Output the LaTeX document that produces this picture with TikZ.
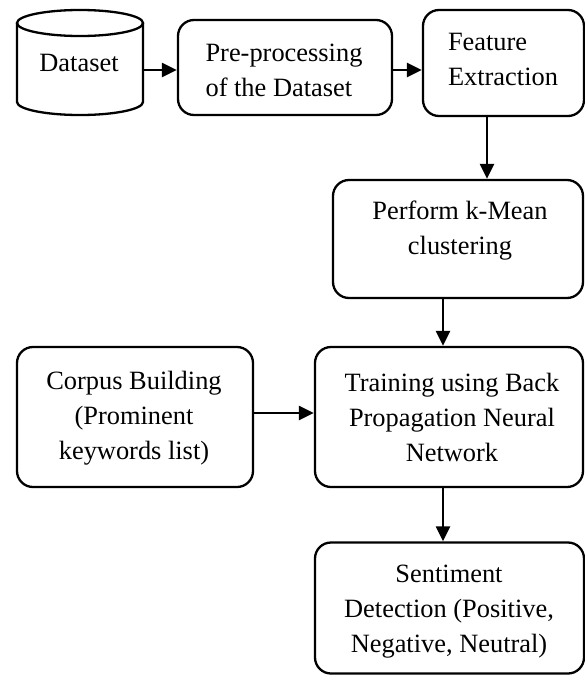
\documentclass[tikz,border=0pt]{standalone}
\usepackage{fontspec}
\setmainfont{Liberation Serif}
\usetikzlibrary{arrows.meta}
\begin{document}
\begin{tikzpicture}[x=1pt,y=1pt,
  box/.style={draw=black, line width=2.3pt, rounded corners=16pt, inner sep=0pt},
  txt/.style={inner sep=0pt, font=\fontsize{26.4}{35}\selectfont},
  arr/.style={line width=2.3pt, -{Triangle[length=15pt,width=14pt]}}]
\useasboundingbox (0,0) rectangle (585,-675);
% Dataset cylinder
\node[txt, minimum width=126pt, minimum height=105pt] (ds) at (80,-62.5) {};
\node[txt] (dst) at (79,-63) {Dataset};
\draw[line width=2.3pt] (80,-23) ellipse [x radius=63, y radius=13];
\draw[line width=2.3pt] (17,-23) -- (17,-102) arc[start angle=180, end angle=360, x radius=63, y radius=13] -- (143,-23);
% boxes
\node[box, minimum width=214pt, minimum height=95pt] (pre) at (285,-67.5) {};
\node[txt, align=left] (pret) at (284,-70.5) {Pre-processing\\of the Dataset};
\node[box, minimum width=161pt, minimum height=106pt] (fe) at (503.5,-63) {};
\node[txt, align=left] (fet) at (503,-59.5) {Feature\\Extraction};
\node[box, minimum width=250pt, minimum height=118pt] (km) at (458,-239) {};
\node[txt, align=center] (kmt) at (460,-230.5) {Perform k-Mean\\clustering};
\node[box, minimum width=268pt, minimum height=140pt] (tr) at (449,-417) {};
\node[txt, align=center] (trt) at (452,-417) {Training using Back\\Propagation Neural\\Network};
\node[box, minimum width=236pt, minimum height=140pt] (cb) at (135,-417) {};
\node[txt, align=center] (cbt) at (134,-418) {Corpus Building\\(Prominent\\keywords list)};
\node[box, minimum width=269pt, minimum height=131pt] (sd) at (449.5,-608) {};
\node[txt, align=center] (sdt) at (449,-612) {Sentiment\\Detection (Positive,\\Negative, Neutral)};
% helper coordinates
\coordinate (y70) at (0,-70);
\coordinate (x487) at (487,0);
\coordinate (x443) at (443,0);
\coordinate (y413) at (0,-413);
% connectors
\draw[arr] (ds.east |- y70) -- (pre.west |- y70);
\draw[arr] (pre.east |- y70) -- (fe.west |- y70);
\draw[arr] (fe.south -| x487) -- (km.north -| x487);
\draw[arr] (km.south -| x443) -- (tr.north -| x443);
\draw[arr] (cb.east |- y413) -- (tr.west |- y413);
\draw[arr] (tr.south -| x443) -- (sd.north -| x443);
\end{tikzpicture}
\end{document}
